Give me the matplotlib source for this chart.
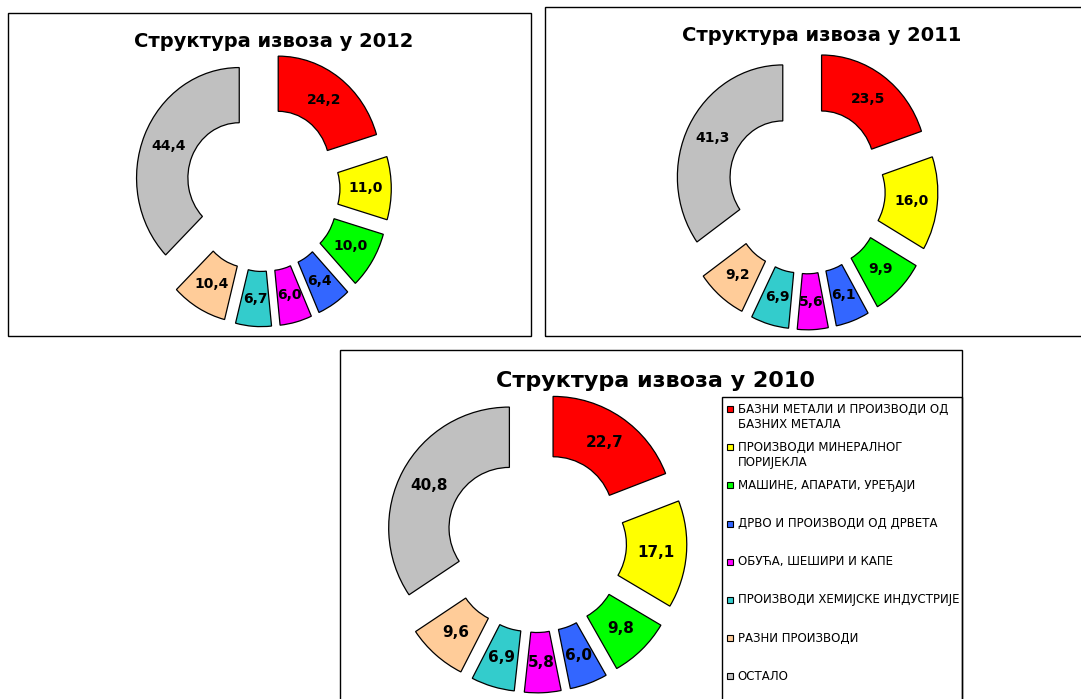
import matplotlib
matplotlib.use("Agg")
import matplotlib.pyplot as plt
from matplotlib.patches import Rectangle

categories = ["БАЗНИ МЕТАЛИ И ПРОИЗВОДИ ОД\nБАЗНИХ МЕТАЛА",
              "ПРОИЗВОДИ МИНЕРАЛНОГ\nПОРИЈЕКЛА",
              "МАШИНЕ, АПАРАТИ, УРЕЂАЈИ",
              "ДРВО И ПРОИЗВОДИ ОД ДРВЕТА",
              "ОБУЋА, ШЕШИРИ И КАПЕ",
              "ПРОИЗВОДИ ХЕМИЈСКЕ ИНДУСТРИЈЕ",
              "РАЗНИ ПРОИЗВОДИ",
              "ОСТАЛО"]
colors = ["#FF0000", "#FFFF00", "#00FF00", "#3366FF",
          "#FF00FF", "#33CCCC", "#FFCC99", "#C0C0C0"]

values_2012 = [24.2, 11.0, 10.0, 6.4, 6.0, 6.7, 10.4, 44.4]
values_2011 = [23.5, 16.0, 9.9, 6.1, 5.6, 6.9, 9.2, 41.3]
values_2010 = [22.7, 17.1, 9.8, 6.0, 5.8, 6.9, 9.6, 40.8]

W, H = 1081, 699
fig = plt.figure(figsize=(W / 100, H / 100), dpi=100)


def box(x0, y0, x1, y1):
    # pixel coords, y from top
    fig.add_artist(Rectangle((x0 / W, 1 - y1 / H), (x1 - x0) / W, (y1 - y0) / H,
                             transform=fig.transFigure, fill=False,
                             edgecolor="black", linewidth=1.0))


def donut(values, title, cx, cy, r_px, k, fs_label, fs_title, tx, ty):
    span = 1.5
    w = 2 * span * r_px
    h = w * k
    ax = fig.add_axes([(cx - w / 2) / W, 1 - (cy + h / 2) / H, w / W, h / H])
    labels = [f"{v:.1f}".replace(".", ",") for v in values]
    wedges, texts = ax.pie(values, colors=colors, labels=labels, labeldistance=0.75,
                           startangle=90, counterclock=False,
                           explode=[0.25] * len(values),
                           wedgeprops=dict(width=0.5, edgecolor="black", linewidth=0.9),
                           textprops=dict(fontsize=fs_label, fontweight="bold"))
    for t in texts:
        t.set_ha("center")
        t.set_va("center")
    ax.set_xlim(-span, span)
    ax.set_ylim(-span, span)
    ax.set_aspect("auto")
    fig.text(tx / W, 1 - ty / H, title, ha="center", va="baseline",
             fontsize=fs_title, fontweight="bold")


box(8, 13, 531, 336)
box(545, 7, 1090, 336)
box(340, 350, 962, 710)
box(722, 397, 962, 710)

donut(values_2012, "Структура извоза у 2012", 262.9, 188.7, 102.7, 1.075, 10, 14, 273.5, 47)
donut(values_2011, "Структура извоза у 2011", 806.2, 189.8, 105.4, 1.063, 10, 14, 821.5, 41)
donut(values_2010, "Структура извоза у 2010", 536, 542, 120.7, 1.0, 11, 16, 655, 387)

# legend for 2010
for i, (lab, col) in enumerate(zip(categories, colors)):
    y = 409 + 38.2 * i
    fig.add_artist(Rectangle((727.3 / W, 1 - (y + 3) / H), 6 / W, 6 / H,
                             transform=fig.transFigure, facecolor=col,
                             edgecolor="black", linewidth=0.8))
    for j, line in enumerate(lab.split("\n")):
        fig.text(737.5 / W, 1 - (y + 15 * j) / H, line, ha="left", va="center",
                 fontsize=8.5)

fig.savefig("out.png", dpi=100)
